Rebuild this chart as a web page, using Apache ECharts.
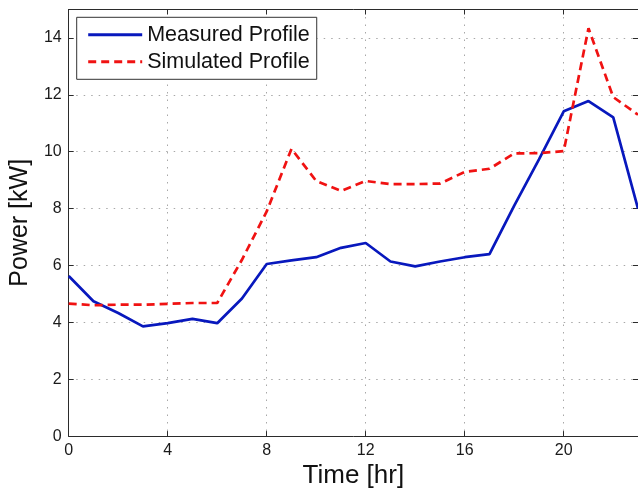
<!DOCTYPE html>
<html>
<head>
<meta charset="utf-8">
<title>Measured vs Simulated Power Profile</title>
<script src="https://cdn.jsdelivr.net/npm/echarts@6/dist/echarts.min.js"></script>
<style>
  html, body { margin: 0; padding: 0; background: #ffffff; }
  #chart { width: 638px; height: 494px; }
</style>
</head>
<body>
<div id="chart"></div>
<script>
// Hourly load profile, 0..23 h
const hours = [0, 1, 2, 3, 4, 5, 6, 7, 8, 9, 10, 11, 12, 13, 14, 15, 16, 17, 18, 19, 20, 21, 22, 23];
const measuredKW = [5.63, 4.74, 4.33, 3.86, 3.97, 4.12, 3.97, 4.84, 6.05, 6.18, 6.29, 6.62,
                    6.79, 6.14, 5.97, 6.14, 6.29, 6.40, 8.10, 9.73, 11.42, 11.78, 11.21, 8.00];
const simulatedKW = [4.66, 4.60, 4.62, 4.62, 4.65, 4.68, 4.68, 6.20, 7.90, 10.10, 8.97, 8.62,
                     8.97, 8.86, 8.86, 8.88, 9.29, 9.40, 9.94, 9.95, 10.02, 14.34, 11.92, 11.30];
const seriesNames = ['Measured Profile', 'Simulated Profile'];
const xTitle = 'Time [hr]';
const yTitle = 'Power [kW]';

const FONT = '"Liberation Sans", Arial, Helvetica, sans-serif';
const axisColor = '#2b2b2b';
const gridDots = { show: true, lineStyle: { color: '#a8a8a8', width: 1, type: [1.5, 6] } };
const inTicks = { show: true, inside: true, length: 5, lineStyle: { color: axisColor, width: 1 } };
const tickFont = { color: '#1a1a1a', fontSize: 16, fontFamily: FONT };

const toPairs = (xs, ys) => xs.map((x, i) => [x, ys[i]]);

const chart = echarts.init(document.getElementById('chart'), null, { renderer: 'canvas' });
chart.setOption({
  animation: false,
  backgroundColor: '#ffffff',
  grid: { left: 67.3, top: 9.5, width: 575, height: 428.8, containLabel: false },
  legend: {
    orient: 'vertical',
    left: 76.7,
    top: 17.3,
    padding: [6.5, 7, 6.5, 10],
    itemWidth: 54,
    itemHeight: 14,
    itemGap: 5,
    backgroundColor: '#ffffff',
    borderColor: '#333333',
    borderWidth: 1,
    borderRadius: 0,
    selectedMode: false,
    itemStyle: { opacity: 0 },
    lineStyle: { width: 3 },
    textStyle: { fontSize: 21.5, lineHeight: 22, color: '#111111', fontFamily: FONT },
    data: seriesNames
  },
  xAxis: [
    {
      type: 'value', position: 'bottom', min: 0, max: 23, interval: 4,
      name: xTitle, nameLocation: 'middle', nameGap: 18,
      nameTextStyle: { fontSize: 26, color: '#111111', fontFamily: FONT },
      axisLine: { show: true, onZero: false, lineStyle: { color: axisColor, width: 1 } },
      axisTick: inTicks,
      axisLabel: Object.assign({ margin: 6, showMaxLabel: false }, tickFont),
      splitLine: gridDots
    },
    {
      type: 'value', position: 'top', min: 0, max: 23, interval: 4,
      axisLine: { show: true, onZero: false, lineStyle: { color: axisColor, width: 1 } },
      axisTick: inTicks,
      axisLabel: { show: false },
      splitLine: { show: false }
    }
  ],
  yAxis: [
    {
      type: 'value', position: 'left', min: 0, max: 15, interval: 2,
      name: yTitle, nameLocation: 'middle', nameGap: 28, nameRotate: 90,
      nameTextStyle: { fontSize: 25, color: '#111111', fontFamily: FONT },
      axisLine: { show: true, onZero: false, lineStyle: { color: axisColor, width: 1 } },
      axisTick: inTicks,
      axisLabel: Object.assign({ margin: 7, showMaxLabel: false }, tickFont),
      splitLine: gridDots
    },
    {
      type: 'value', position: 'right', min: 0, max: 15, interval: 2,
      axisLine: { show: true, onZero: false, lineStyle: { color: axisColor, width: 1 } },
      axisTick: inTicks,
      axisLabel: { show: false },
      splitLine: { show: false }
    }
  ],
  series: [
    {
      name: seriesNames[0], type: 'line', xAxisIndex: 0, yAxisIndex: 0,
      data: toPairs(hours, measuredKW),
      showSymbol: false, symbol: 'none', clip: true,
      color: '#0818bd',
      lineStyle: { color: '#0818bd', width: 2.7, type: 'solid' }
    },
    {
      name: seriesNames[1], type: 'line', xAxisIndex: 0, yAxisIndex: 0,
      data: toPairs(hours, simulatedKW),
      showSymbol: false, symbol: 'none', clip: true,
      color: '#f01212',
      lineStyle: { color: '#f01212', width: 2.7, type: [8, 5] }
    }
  ]
});
</script>
</body>
</html>
